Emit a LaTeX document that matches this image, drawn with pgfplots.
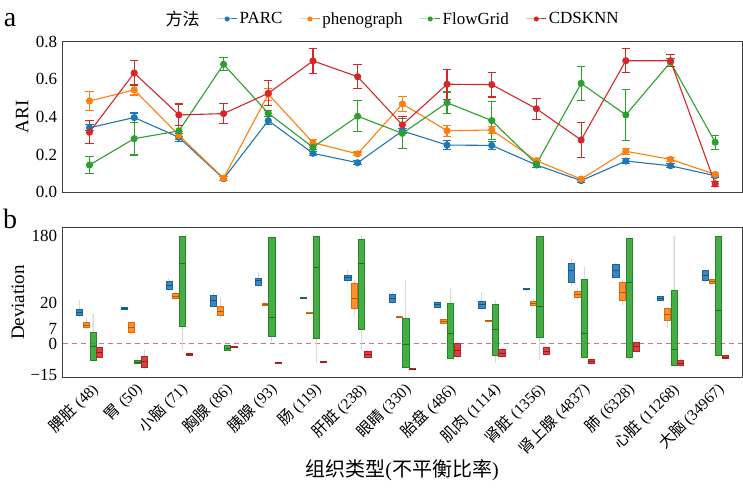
\documentclass[border=0pt]{standalone}
\usepackage{fontspec}
\setmainfont{Liberation Serif}
\newfontfamily\cjk{Noto Sans CJK SC}
\usepackage{pgfplots}
\pgfplotsset{compat=1.18}
\usepgfplotslibrary{statistics}
\definecolor{cB}{HTML}{1F77B4}
\definecolor{cO}{HTML}{FF7F0E}
\definecolor{cG}{HTML}{2CA02C}
\definecolor{cR}{HTML}{D62728}
\definecolor{zeroline}{RGB}{200,120,130}
\newcommand\fs[1]{\fontsize{#1}{#1}\selectfont}
\pgfplotsset{myerr/.style={error bars/y dir=both, error bars/y explicit,
    error bars/error bar style={line width=1.1pt},
    error bars/error mark options={line width=1.1pt, mark size=4.2pt, rotate=90}}}
% draw position, lower whisker, lower quartile, median, upper quartile, upper whisker, colour
\newcommand\bx[7]{\addplot[boxplot prepared={draw position=#1, lower whisker=#2, lower quartile=#3, median=#4, upper quartile=#5, upper whisker=#6, box extend=0.14, whisker extend=0, draw direction=y},
  draw=#7!85!black, fill=#7, fill opacity=0.88, line width=0.4pt,
  boxplot/every whisker/.style={draw=black!15, fill opacity=1, line width=0.7pt},
  boxplot/every median/.style={draw=#7!70!black, line width=0.4pt}] coordinates {};}
\pgfplotstableread{
x  b     be    o     oe    g     ge    r     re
0  0.343 0.015 0.485 0.051 0.145 0.046 0.319 0.061
1  0.397 0.024 0.544 0.027 0.285 0.087 0.634 0.064
2  0.292 0.020 0.303 0.020 0.326 0.029 0.411 0.058
3  0.072 0.010 0.075 0.010 0.680 0.034 0.418 0.052
4  0.381 0.020 0.521 0.031 0.420 0.015 0.526 0.067
5  0.207 0.012 0.264 0.015 0.239 0.012 0.698 0.065
6  0.157 0.010 0.204 0.010 0.404 0.082 0.614 0.063
7  0.326 0.015 0.469 0.040 0.313 0.081 0.358 0.046
8  0.251 0.025 0.327 0.029 0.476 0.057 0.574 0.080
9  0.249 0.020 0.331 0.020 0.381 0.102 0.572 0.066
10 0.145 0.012 0.168 0.012 0.150 0.020 0.444 0.056
11 0.062 0.008 0.070 0.008 0.579 0.090 0.278 0.094
12 0.166 0.015 0.218 0.015 0.411 0.135 0.699 0.064
13 0.141 0.010 0.175 0.010 0.691 0.022 0.699 0.033
14 0.088 0.008 0.095 0.010 0.266 0.037 0.045 0.012
}\ari
\begin{document}
\begin{tikzpicture}
\useasboundingbox (0,0) rectangle (743pt,489pt);
% ---------- panel a ----------
\begin{axis}[
  at={(62.7pt,296.7pt)}, anchor=south west, scale only axis,
  width=679.3pt, height=150.6pt,
  xmin=-0.6, xmax=14.6, ymin=0, ymax=0.8,
  xtick=\empty,
  ytick={0,0.2,0.4,0.6,0.8}, yticklabels={0.0,0.2,0.4,0.6,0.8},
  tick style={draw=none},
  tick label style={font=\fs{17}},
  yticklabel style={xshift=-2pt},
  axis line style={draw=black!75, line width=1pt},
  legend style={draw=none, fill=none, at={(0.485,1)}, anchor=center, yshift=22.7pt,
    font=\fs{17}, legend columns=-1,
    /tikz/every even column/.append style={column sep=15pt}},
  legend image code/.code={\draw[mark repeat=2, mark phase=2, #1, mark size=2pt, line width=1pt] plot coordinates {(0pt,0pt) (10pt,0pt) (20pt,0pt)};},
  every axis plot/.append style={line width=1.1pt, mark=*, mark size=3pt},
]
\addlegendimage{empty legend}\addlegendentry{\cjk 方法}
\addplot[cB, mark options={fill=cB}, myerr] table[x=x, y=b, y error=be] {\ari};
\addlegendentry{PARC}
\addplot[cO, mark options={fill=cO}, myerr] table[x=x, y=o, y error=oe] {\ari};
\addlegendentry{phenograph}
\addplot[cG, mark options={fill=cG}, myerr] table[x=x, y=g, y error=ge] {\ari};
\addlegendentry{FlowGrid}
\addplot[cR, mark options={fill=cR}, myerr] table[x=x, y=r, y error=re] {\ari};
\addlegendentry{CDSKNN}
\end{axis}
% ---------- panel b ----------
\begin{axis}[
  at={(62.7pt,111pt)}, anchor=south west, scale only axis,
  width=679.3pt, height=150.5pt,
  xmin=-0.6, xmax=14.6, ymin=-16.6, ymax=252,
  y coord trafo/.code={\edef\trafoarg{#1}\ifx\trafoarg\empty\def\pgfmathresult{}\else\pgfmathparse{min(#1,31)/31*1.111+ln(max(#1,31)/31)/ln(10)}\fi},
  ytick={-15,0,7,20,180}, yticklabels={−15,0,7,20,180},
  xtick={0,...,14},
  xticklabels={{\cjk 脾脏} (48),{\cjk 胃} (50),{\cjk 小脑} (71),{\cjk 胸腺} (86),{\cjk 胰腺} (93),{\cjk 肠} (119),{\cjk 肝脏} (238),{\cjk 眼睛} (330),{\cjk 胎盘} (486),{\cjk 肌肉} (1114),{\cjk 肾脏} (1356),{\cjk 肾上腺} (4837),{\cjk 肺} (6328),{\cjk 心脏} (11268),{\cjk 大脑} (34967)},
  xticklabel style={rotate=45, anchor=north east, font=\fs{15.5}, inner sep=2pt},
  tick style={draw=none},
  tick label style={font=\fs{17}},
  yticklabel style={xshift=-2pt},
  axis line style={draw=black!75, line width=1pt},
]
\addplot[zeroline, line width=1pt, dash pattern=on 5pt off 4pt] coordinates {(-0.6,0) (14.6,0)};
% 脾脏
\bx{-0.225}{13.1}{13.8}{15.2}{16.7}{21.2}{cB}
\bx{-0.075}{7.5}{7.8}{9.1}{10.4}{13.1}{cO}
\bx{0.075}{-7.9}{-7.9}{-1}{5.8}{14.4}{cG}
\bx{0.225}{-6.8}{-6.3}{-4}{-1.6}{-1.2}{cR}
% 胃
\bx{0.775}{16.5}{16.9}{17.2}{17.5}{17.9}{cB}
\bx{0.925}{4.2}{5.7}{8}{10.4}{10.8}{cO}
\bx{1.075}{-9.8}{-9.5}{-8.7}{-7.8}{-7.5}{cG}
\bx{1.225}{-12}{-11.3}{-8.5}{-5.8}{-3}{cR}
% 小脑
\bx{1.775}{25.5}{26.4}{28.3}{30.3}{32.9}{cB}
\bx{1.925}{21.5}{22.0}{23.3}{24.6}{25}{cO}
\bx{2.075}{-3}{8.3}{60}{180}{180}{cG}
\bx{2.225}{-5.5}{-5.4}{-5}{-4.6}{-4.5}{cR}
% 胸腺
\bx{2.775}{17.5}{18.3}{21}{23.5}{25.2}{cB}
\bx{2.925}{12.3}{14.1}{16}{18}{22}{cO}
\bx{3.075}{-3.5}{-3.2}{-2}{-0.8}{-0.5}{cG}
\bx{3.225}{-2}{-1.8}{-1.5}{-1.2}{-1}{cR}
% 胰腺
\bx{3.775}{27.7}{28.3}{31}{33.4}{42.9}{cB}
\bx{3.925}{18.5}{18.7}{19.3}{19.8}{20.5}{cO}
\bx{4.075}{1}{3.7}{12.8}{170}{175}{cG}
\bx{4.225}{-9.3}{-9.2}{-9}{-8.8}{-8.7}{cR}
% 肠
\bx{4.775}{22}{22.1}{22.3}{22.5}{22.6}{cB}
\bx{4.925}{14.8}{14.9}{15}{15.2}{15.3}{cO}
\bx{5.075}{-9.5}{2.6}{51.2}{179}{179}{cG}
\bx{5.225}{-9}{-8.9}{-8.7}{-8.5}{-8.4}{cR}
% 肝脏
\bx{5.775}{29}{30.8}{34}{37.2}{45.9}{cB}
\bx{5.925}{13.1}{17.2}{22}{29.3}{30.9}{cO}
\bx{6.075}{-3}{7.1}{60}{157}{180}{cG}
\bx{6.225}{-6.5}{-6.3}{-5}{-3.4}{-3.2}{cR}
% 眼睛
\bx{6.775}{19.5}{20.2}{22}{24.1}{25}{cB}
\bx{6.925}{12.9}{13}{13.1}{13.3}{13.4}{cO}
\bx{7.075}{-11.8}{-11.5}{0}{12.6}{31.4}{cG}
\bx{7.225}{-12.3}{-12.2}{-12.1}{-11.9}{-11.8}{cR}
% 胎盘
\bx{7.775}{17.2}{17.7}{19}{20.2}{20.6}{cB}
\bx{7.925}{9.7}{9.9}{10.8}{11.7}{12}{cO}
\bx{8.075}{-7.5}{-7.1}{5}{19.6}{26.9}{cG}
\bx{8.225}{-6.3}{-6}{-3}{0.5}{0.8}{cR}
% 肌肉
\bx{8.775}{16.5}{17.2}{19}{20.7}{25.2}{cB}
\bx{8.925}{11}{11.1}{11.2}{11.4}{11.5}{cO}
\bx{9.075}{-9.5}{-5.6}{7}{19.3}{21.2}{cG}
\bx{9.225}{-6.2}{-6}{-4.4}{-2.7}{-2.5}{cR}
% 肾脏
\bx{9.775}{26.2}{26.3}{26.6}{26.9}{27}{cB}
\bx{9.925}{18.5}{18.8}{19.7}{20.7}{21.5}{cO}
\bx{10.075}{-7.9}{3.4}{18.3}{180}{180}{cG}
\bx{10.225}{-5.3}{-5.1}{-3.5}{-1.9}{-1.7}{cR}
% 肾上腺
\bx{10.775}{28}{30.1}{45.9}{60.1}{73.4}{cB}
\bx{10.925}{21}{22.8}{24.2}{25.7}{27}{cO}
\bx{11.075}{-7}{-6.3}{5.3}{32.4}{52.4}{cG}
\bx{11.225}{-9.4}{-9.2}{-8.3}{-7.4}{-7.2}{cR}
% 肺
\bx{11.775}{33}{35.1}{45}{57.7}{60}{cB}
\bx{11.925}{19}{21.2}{25}{29.8}{32}{cO}
\bx{12.075}{-8}{-6.6}{30}{167}{175}{cG}
\bx{12.225}{-3.6}{-3.4}{-1.3}{0.7}{1}{cR}
% 心脏
\bx{12.775}{20.5}{20.9}{22}{23}{23.3}{cB}
\bx{12.925}{7.5}{11.5}{14.3}{17.2}{17.5}{cO}
\bx{13.075}{-11.5}{-10.3}{-2.7}{26.1}{180}{cG}
\bx{13.225}{-11}{-10.5}{-9.2}{-7.9}{-7.6}{cR}
% 大脑
\bx{13.775}{30}{30.8}{38}{45.4}{46}{cB}
\bx{13.925}{29.3}{29.6}{30.5}{31.4}{31.6}{cO}
\bx{14.075}{-6}{-5.3}{16.4}{180}{180}{cG}
\bx{14.225}{-7.3}{-7.1}{-6.3}{-5.6}{-5.4}{cR}
\end{axis}
% labels
\node[font=\fs{28}] at (10pt,469pt) {a};
\node[font=\fs{28}] at (10pt,270pt) {b};
\node[rotate=90, font=\fs{19}] at (22pt,372pt) {ARI};
\node[rotate=90, font=\fs{19}] at (18pt,186.5pt) {Deviation};
\node[font=\fs{20}] at (402pt,19pt) {{\cjk 组织类型}({\cjk 不平衡比率})};
\end{tikzpicture}
\end{document}
